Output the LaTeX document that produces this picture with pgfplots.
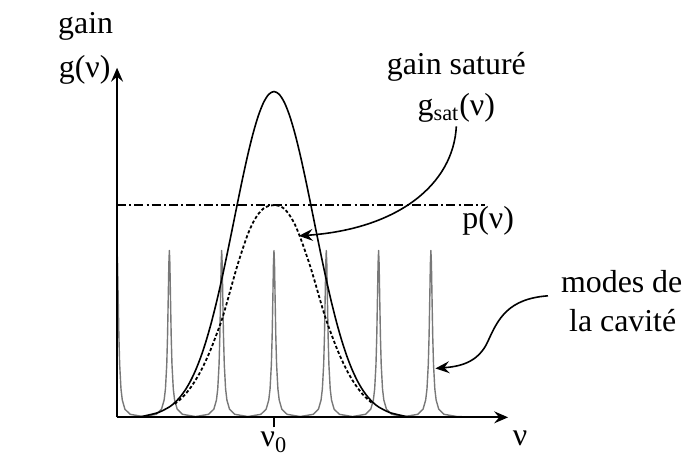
\documentclass[border=0pt]{standalone}
\usepackage{fontspec}
\setmainfont{Liberation Serif}
\usepackage{pgfplots}
\pgfplotsset{compat=1.18}
\usetikzlibrary{arrows.meta}

\definecolor{modegray}{RGB}{120,120,120}

\begin{document}
\begin{tikzpicture}[font=\fontsize{16}{19}\selectfont]
\begin{axis}[
  x=26.25pt, y=163.5pt,
  xmin=-3, xmax=4.476, ymin=0, ymax=1.073,
  axis lines=left,
  axis on top,
  axis line style={line width=0.9pt, -{Stealth[length=7pt,width=6pt,inset=2.5pt]}},
  xtick={0}, xticklabels={ν\textsubscript{0}},
  ytick=\empty,
  tick align=outside, major tick length=5pt,
  tick style={line width=0.8pt, black},
  xticklabel style={yshift=1pt},
  clip mode=individual,
]
% cavity modes (Lorentzian lines, spacing c/2L)
\addplot[modegray, line width=0.7pt, line join=round] coordinates {
 (-3,0.512)(-2.99,0.471)(-2.98,0.380)(-2.965,0.249)(-2.95,0.162)(-2.925,0.0873)(-2.9,0.0531)(-2.85,0.025)(-2.75,0.0093)(-2.5,0.0024)
 (-2.25,0.0093)(-2.15,0.025)(-2.1,0.0531)(-2.075,0.0873)(-2.05,0.162)(-2.035,0.249)(-2.02,0.380)(-2.01,0.471)(-2,0.512)(-1.99,0.471)(-1.98,0.380)(-1.965,0.249)(-1.95,0.162)(-1.925,0.0873)(-1.9,0.0531)(-1.85,0.025)(-1.75,0.0093)(-1.5,0.0024)
 (-1.25,0.0093)(-1.15,0.025)(-1.1,0.0531)(-1.075,0.0873)(-1.05,0.162)(-1.035,0.249)(-1.02,0.380)(-1.01,0.471)(-1,0.512)(-0.99,0.471)(-0.98,0.380)(-0.965,0.249)(-0.95,0.162)(-0.925,0.0873)(-0.9,0.0531)(-0.85,0.025)(-0.75,0.0093)(-0.5,0.0024)
 (-0.25,0.0093)(-0.15,0.025)(-0.1,0.0531)(-0.075,0.0873)(-0.05,0.162)(-0.035,0.249)(-0.02,0.380)(-0.01,0.471)(0,0.512)(0.01,0.471)(0.02,0.380)(0.035,0.249)(0.05,0.162)(0.075,0.0873)(0.1,0.0531)(0.15,0.025)(0.25,0.0093)(0.5,0.0024)
 (0.75,0.0093)(0.85,0.025)(0.9,0.0531)(0.925,0.0873)(0.95,0.162)(0.965,0.249)(0.98,0.380)(0.99,0.471)(1,0.512)(1.01,0.471)(1.02,0.380)(1.035,0.249)(1.05,0.162)(1.075,0.0873)(1.1,0.0531)(1.15,0.025)(1.25,0.0093)(1.5,0.0024)
 (1.75,0.0093)(1.85,0.025)(1.9,0.0531)(1.925,0.0873)(1.95,0.162)(1.965,0.249)(1.98,0.380)(1.99,0.471)(2,0.512)(2.01,0.471)(2.02,0.380)(2.035,0.249)(2.05,0.162)(2.075,0.0873)(2.1,0.0531)(2.15,0.025)(2.25,0.0093)(2.5,0.0024)
 (2.75,0.0093)(2.85,0.025)(2.9,0.0531)(2.925,0.0873)(2.95,0.162)(2.965,0.249)(2.98,0.380)(2.99,0.471)(3,0.512)(3.01,0.471)(3.02,0.380)(3.035,0.249)(3.05,0.162)(3.075,0.0873)(3.1,0.0531)(3.15,0.025)(3.25,0.0093)(3.5,0.0024)(3.8,0.001)
};
% unsaturated gain g(nu)
\addplot[black, line width=0.8pt, smooth] coordinates {
 (-2.6,0)(-2.4,0.007)(-2.2,0.0155)(-2.0,0.0319)(-1.9,0.0447)(-1.8,0.0614)(-1.7,0.083)(-1.6,0.1103)(-1.5,0.1441)(-1.4,0.1849)(-1.3,0.2333)(-1.2,0.2894)(-1.1,0.3528)(-1.0,0.4227)(-0.9,0.4978)(-0.8,0.5763)(-0.7,0.6558)(-0.6,0.7334)(-0.5,0.8063)(-0.4,0.8713)(-0.3,0.9254)(-0.2,0.9661)(-0.1,0.9914)(0,1.0)
 (0.1,0.9914)(0.2,0.9661)(0.3,0.9254)(0.4,0.8713)(0.5,0.8063)(0.6,0.7334)(0.7,0.6558)(0.8,0.5763)(0.9,0.4978)(1.0,0.4227)(1.1,0.3528)(1.2,0.2894)(1.3,0.2333)(1.4,0.1849)(1.5,0.1441)(1.6,0.1103)(1.7,0.083)(1.8,0.0614)(1.9,0.0447)(2.0,0.0319)(2.2,0.0155)(2.4,0.007)(2.6,0)
};
% saturated gain g_sat(nu)
\addplot[black, line width=0.9pt, smooth, dash pattern=on 1.6pt off 1.1pt] coordinates {
 (-1.9,0.041)(-1.8,0.054)(-1.7,0.070)(-1.6,0.090)(-1.5,0.114)(-1.4,0.142)(-1.3,0.175)(-1.2,0.212)(-1.1,0.254)(-1.0,0.298)(-0.9,0.352)(-0.8,0.410)(-0.7,0.466)(-0.6,0.516)(-0.5,0.562)(-0.4,0.598)(-0.3,0.624)(-0.2,0.641)(-0.1,0.649)(0,0.651)
 (0.1,0.649)(0.2,0.640)(0.3,0.620)(0.4,0.592)(0.5,0.553)(0.6,0.508)(0.7,0.460)(0.8,0.406)(0.9,0.350)(1.0,0.298)(1.1,0.254)(1.2,0.212)(1.3,0.175)(1.4,0.142)(1.5,0.114)(1.6,0.090)(1.7,0.070)(1.8,0.054)(1.9,0.041)
};
% losses p(nu)
\addplot[black, line width=0.8pt, dash pattern=on 4.5pt off 1.6pt on 1pt off 1.6pt] coordinates {(-3,0.651) (4.04,0.651)};

% labels
\node at (axis cs:-3.6,1.199) {gain};
\node at (axis cs:-3.62,1.067) {g(ν)};
\node at (axis cs:3.486,1.076) {gain saturé};
\node at (axis cs:3.486,0.951) {g\textsubscript{sat}(ν)};
\node at (axis cs:4.095,0.602) {p(ν)};
\node at (axis cs:6.648,0.416) {modes de};
\node at (axis cs:6.667,0.297) {la cavité};
\node at (axis cs:4.705,-0.064) {ν};

% pointers
\draw[line width=0.8pt, -{Stealth[length=7pt,width=6pt,inset=2.5pt]}]
  (axis cs:3.486,0.893) .. controls (axis cs:3.429,0.716) and (axis cs:2.381,0.578) .. (axis cs:0.476,0.557);
\draw[line width=0.8pt, -{Stealth[length=7pt,width=6pt,inset=2.5pt]}]
  (axis cs:5.238,0.373) .. controls (axis cs:4.476,0.364) and (axis cs:4.286,0.303) .. (axis cs:4.095,0.235)
  .. controls (axis cs:3.905,0.165) and (axis cs:3.524,0.156) .. (axis cs:3.086,0.150);

% picture frame
\path (axis cs:-5.238,1.281) rectangle (axis cs:7.886,-0.1376);
\end{axis}
\end{tikzpicture}
\end{document}
